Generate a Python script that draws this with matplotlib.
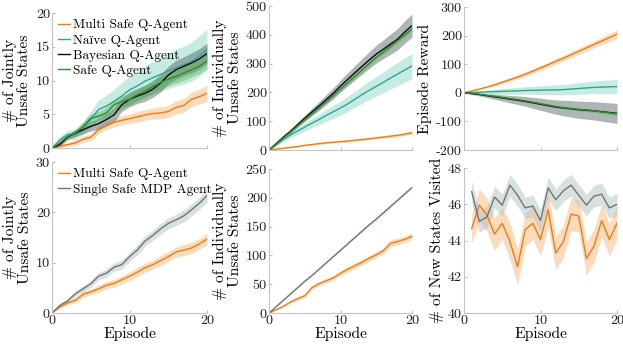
import numpy as np
import matplotlib
matplotlib.use("Agg")
import matplotlib.pyplot as plt

plt.rcParams['font.family'] = ['cmr10', 'Liberation Serif']
plt.rcParams['axes.unicode_minus'] = False
plt.rcParams['mathtext.fontset'] = 'cm'

# ---- data ----
ep = np.arange(0, 21)
ep_new = np.arange(1, 21)

# top left: jointly unsafe states
joint_multi = [0, 0.25, 0.5, 0.75, 1.3, 1.6, 2.7, 3.3, 3.8, 4.1, 4.35, 4.6, 4.9, 5.1, 5.2, 5.4, 6.0, 6.3, 7.2, 7.6, 8.1]
joint_multi_sd = [0, 0.2, 0.3, 0.4, 0.5, 0.5, 0.6, 0.6, 0.7, 0.7, 0.7, 0.8, 0.8, 0.8, 0.9, 0.9, 1.0, 1.0, 1.1, 1.1, 1.2]
joint_naive = [0, 1.2, 2.0, 2.0, 3.0, 4.2, 5.7, 6.2, 6.9, 7.7, 8.6, 9.2, 9.9, 10.4, 10.9, 11.4, 11.9, 12.3, 12.8, 13.6, 14.6]
joint_naive_sd = [0, 0.5, 0.6, 0.8, 1.0, 1.2, 1.4, 1.6, 1.8, 2.0, 2.1, 2.2, 2.3, 2.4, 2.5, 2.6, 2.7, 2.8, 2.9, 3.0, 3.0]
joint_bayes = [0, 0.5, 1.6, 2.2, 2.7, 3.2, 3.6, 4.2, 4.9, 6.4, 7.2, 7.7, 8.1, 8.7, 9.6, 10.8, 11.6, 12.1, 12.6, 13.2, 14.0]
joint_bayes_sd = [0, 0.3, 0.4, 0.5, 0.6, 0.7, 0.8, 0.9, 1.0, 1.0, 1.1, 1.1, 1.2, 1.2, 1.3, 1.3, 1.4, 1.4, 1.5, 1.5, 1.5]
joint_safe = [0, 0.75, 1.7, 2.2, 3.2, 4.4, 4.7, 5.2, 6.4, 6.9, 7.2, 7.9, 8.4, 9.1, 9.7, 10.2, 10.6, 11.1, 11.6, 12.1, 12.9]
joint_safe_sd = [0, 0.3, 0.4, 0.5, 0.6, 0.7, 0.7, 0.8, 0.8, 0.8, 0.9, 0.9, 0.9, 1.0, 1.0, 1.0, 1.0, 1.1, 1.1, 1.1, 1.1]

# top middle: individually unsafe states
ind_multi = [0, 3, 6, 9, 12, 16, 19, 22, 25, 27, 29, 31, 34, 36, 39, 42, 45, 48, 51, 55, 60]
ind_multi_sd = [0, 1, 1, 2, 2, 2, 3, 3, 3, 3, 3, 4, 4, 4, 4, 4, 5, 5, 5, 5, 6]
ind_naive = [0, 18, 36, 52, 66, 80, 93, 106, 120, 133, 146, 160, 176, 192, 207, 221, 235, 250, 264, 278, 292]
ind_naive_sd = [0, 4, 7, 10, 12, 14, 16, 18, 20, 22, 24, 26, 28, 30, 32, 34, 36, 38, 40, 42, 44]
ind_bayes = [0, 22, 45, 65, 88, 110, 132, 153, 175, 197, 222, 245, 268, 290, 312, 333, 350, 368, 385, 410, 432]
ind_bayes_sd = [0, 3, 5, 7, 9, 11, 13, 15, 17, 19, 21, 23, 25, 27, 29, 31, 33, 35, 37, 39, 40]
ind_safe = [0, 20, 42, 62, 84, 105, 126, 146, 167, 189, 212, 234, 256, 278, 300, 322, 340, 360, 380, 400, 420]
ind_safe_sd = [0, 2, 3, 3, 4, 4, 5, 5, 5, 6, 6, 6, 7, 7, 7, 7, 8, 8, 8, 8, 8]

# top right: episode reward
rew_multi = [0, 6, 13, 20, 28, 37, 46, 55, 65, 76, 87, 98, 110, 121, 133, 145, 157, 169, 181, 193, 205]
rew_multi_sd = [0, 2, 3, 4, 5, 6, 7, 7, 8, 8, 9, 9, 10, 10, 11, 11, 12, 12, 13, 14, 15]
rew_naive = [0, 1, 2, 3, 4, 5, 6, 7, 8, 9, 9, 10, 10, 11, 13, 15, 17, 19, 20, 21, 22]
rew_naive_sd = [0, 3, 5, 7, 9, 10, 11, 12, 13, 14, 15, 16, 17, 18, 19, 20, 21, 22, 23, 24, 25]
rew_bayes = [0, -3, -6, -10, -14, -18, -22, -26, -30, -35, -40, -45, -50, -53, -56, -59, -61, -63, -66, -69, -72]
rew_bayes_sd = [0, 3, 5, 7, 9, 11, 13, 15, 17, 19, 21, 23, 25, 27, 29, 30, 31, 32, 33, 34, 35]
rew_safe = [0, -2, -5, -9, -12, -16, -20, -24, -28, -33, -38, -43, -48, -52, -55, -58, -60, -63, -67, -70, -74]
rew_safe_sd = [0, 1, 1, 2, 2, 2, 3, 3, 3, 3, 4, 4, 4, 4, 5, 5, 5, 5, 5, 6, 6]

# bottom left: jointly unsafe, multi vs single
bj_multi = [0, 1.2, 2.0, 2.5, 3.7, 4.2, 4.8, 5.5, 5.9, 6.6, 7.3, 8.1, 9.0, 9.6, 10.4, 11.2, 12.1, 12.5, 12.9, 13.7, 14.7]
bj_multi_sd = [0, 0.3, 0.4, 0.5, 0.6, 0.6, 0.7, 0.7, 0.8, 0.8, 0.8, 0.9, 0.9, 0.9, 1.0, 1.0, 1.0, 1.1, 1.1, 1.1, 1.2]
bj_single = [0, 1.5, 2.4, 3.8, 4.8, 5.8, 7.3, 7.9, 9.1, 9.6, 11.2, 12.5, 14.3, 15.4, 16.7, 17.8, 18.5, 19.3, 20.5, 21.8, 23.3]
bj_single_sd = [0, 0.3, 0.4, 0.5, 0.6, 0.7, 0.7, 0.8, 0.8, 0.9, 0.9, 1.0, 1.0, 1.0, 1.1, 1.1, 1.1, 1.2, 1.2, 1.2, 1.3]

# bottom middle: individually unsafe, multi vs single
bi_multi = [0, 5.7, 11.5, 19, 25, 30, 44, 51, 56, 61, 69, 76, 82, 88, 95, 101, 108, 121, 124, 128, 133]
bi_multi_sd = [0, 1, 2, 2, 3, 3, 3, 4, 4, 4, 4, 5, 5, 5, 5, 5, 5, 6, 6, 6, 6]
bi_single = [0, 11, 22, 33, 44, 55, 65, 76, 87, 98, 109, 120, 131, 142, 153, 163, 174, 185, 196, 207, 218]
bi_single_sd = [0, 0.5, 0.8, 1, 1, 1, 1.2, 1.2, 1.3, 1.4, 1.5, 1.5, 1.6, 1.7, 1.8, 1.8, 1.9, 2, 2, 2, 2]

# bottom right: new states visited
nv_multi = [44.65, 45.95, 45.4, 44.35, 44.95, 43.95, 42.55, 44.6, 44.95, 44.05, 45.7, 43.3, 43.95, 45.45, 45.35, 43.0, 43.7, 45.1, 44.05, 44.95]
nv_multi_sd = [0.8, 0.9, 0.9, 0.9, 0.9, 1.0, 1.0, 0.9, 0.9, 0.9, 1.0, 0.9, 0.9, 0.9, 0.9, 0.9, 0.9, 0.9, 0.9, 0.9]
nv_single = [46.7, 45.05, 45.3, 46.4, 45.95, 47.05, 46.5, 45.8, 45.9, 45.1, 46.9, 46.25, 46.75, 47.05, 46.5, 45.95, 46.45, 46.55, 45.8, 46.0]
nv_single_sd = [0.6, 0.6, 0.6, 0.6, 0.6, 0.6, 0.6, 0.6, 0.6, 0.6, 0.6, 0.6, 0.6, 0.6, 0.6, 0.6, 0.6, 0.6, 0.6, 0.6]

labels_top = ['Multi Safe Q-Agent', 'Naïve Q-Agent', 'Bayesian Q-Agent', 'Safe Q-Agent']
labels_bot = ['Multi Safe Q-Agent', 'Single Safe MDP Agent']

# ---- styles ----
c_orange = '#EE7D12'
c_teal = '#35A095'
c_black = '#0A0A0A'
c_green = '#2E8A2E'
c_gray = '#6B7878'
band = {c_orange: ('#F5B26B', 0.45), c_teal: ('#6FD0B6', 0.4),
        c_black: ('#4C5C5C', 0.45), c_green: ('#4FB04F', 0.4),
        c_gray: ('#B5C2C2', 0.5)}

W, H = 623, 345
fig = plt.figure(figsize=(W / 100, H / 100), dpi=100)


def box(x0, x1, ytop, ybot):
    return [x0 / W, 1 - ybot / H, (x1 - x0) / W, (ybot - ytop) / H]


def style(ax):
    for s in ['top', 'right']:
        ax.spines[s].set_visible(False)
    for s in ['left', 'bottom']:
        ax.spines[s].set_color('#c4c4c4')
        ax.spines[s].set_linewidth(0.8)
    ax.tick_params(direction='in', length=2.5, width=0.6, color='#b0b0b0',
                   labelsize=10.2, labelcolor='#222222', pad=1.5)


def series(ax, x, y, sd, color, label=None):
    y = np.array(y)
    sd = np.array(sd)
    bc, ba = band[color]
    ax.fill_between(x, y - sd, y + sd, color=bc, alpha=ba, linewidth=0)
    ax.plot(x, y, color=color, linewidth=1.0, label=label)


def legend(ax, labels):
    ax.legend(loc='upper left', frameon=False, fontsize=9.6, handlelength=0.9,
              handletextpad=0.25, labelspacing=0.22, borderaxespad=0.35,
              borderpad=0.1)


ylab_kw = dict(fontsize=11.2, linespacing=1.1, labelpad=3)
xlab_kw = dict(fontsize=11.2, labelpad=0)

# top left
ax = fig.add_axes(box(52, 207, 13, 148))
style(ax)
series(ax, ep, joint_multi, joint_multi_sd, c_orange, labels_top[0])
series(ax, ep, joint_naive, joint_naive_sd, c_teal, labels_top[1])
series(ax, ep, joint_bayes, joint_bayes_sd, c_black, labels_top[2])
series(ax, ep, joint_safe, joint_safe_sd, c_green, labels_top[3])
ax.set_xlim(0, 20)
ax.set_ylim(0, 20)
ax.set_xticks([0, 10, 20])
ax.set_xticklabels([])
ax.set_yticks([0, 5, 10, 15, 20])
ax.set_ylabel('# of Jointly\nUnsafe States', **ylab_kw)
legend(ax, labels_top)

# top middle
ax = fig.add_axes(box(269, 412, 6, 150))
style(ax)
series(ax, ep, ind_multi, ind_multi_sd, c_orange)
series(ax, ep, ind_naive, ind_naive_sd, c_teal)
series(ax, ep, ind_bayes, ind_bayes_sd, c_black)
series(ax, ep, ind_safe, ind_safe_sd, c_green)
ax.set_xlim(0, 20)
ax.set_ylim(0, 500)
ax.set_xticks([0, 10, 20])
ax.set_xticklabels([])
ax.set_yticks([0, 100, 200, 300, 400, 500])
ax.set_ylabel('# of Individually\nUnsafe States', **ylab_kw)

# top right
ax = fig.add_axes(box(464, 617, 7, 150))
style(ax)
series(ax, ep, rew_multi, rew_multi_sd, c_orange)
series(ax, ep, rew_naive, rew_naive_sd, c_teal)
series(ax, ep, rew_bayes, rew_bayes_sd, c_black)
series(ax, ep, rew_safe, rew_safe_sd, c_green)
ax.set_xlim(0, 20)
ax.set_ylim(-200, 300)
ax.set_xticks([0, 10, 20])
ax.set_xticklabels([])
ax.set_yticks([-200, -100, 0, 100, 200, 300])
ax.set_ylabel('Episode Reward', **ylab_kw)

# bottom left
ax = fig.add_axes(box(52, 207, 162, 313))
style(ax)
series(ax, ep, bj_multi, bj_multi_sd, c_orange, labels_bot[0])
series(ax, ep, bj_single, bj_single_sd, c_gray, labels_bot[1])
ax.set_xlim(0, 20)
ax.set_ylim(0, 30)
ax.set_xticks([0, 10, 20])
ax.set_yticks([0, 10, 20, 30])
ax.set_ylabel('# of Jointly\nUnsafe States', **ylab_kw)
ax.set_xlabel('Episode', **xlab_kw)
legend(ax, labels_bot)

# bottom middle
ax = fig.add_axes(box(269, 412, 169, 313))
style(ax)
series(ax, ep, bi_multi, bi_multi_sd, c_orange)
series(ax, ep, bi_single, bi_single_sd, c_gray)
ax.set_xlim(0, 20)
ax.set_ylim(0, 250)
ax.set_xticks([0, 10, 20])
ax.set_yticks([0, 50, 100, 150, 200, 250])
ax.set_ylabel('# of Individually\nUnsafe States', **ylab_kw)
ax.set_xlabel('Episode', **xlab_kw)

# bottom right
ax = fig.add_axes(box(464, 617, 168, 313))
style(ax)
series(ax, ep_new, nv_multi, nv_multi_sd, c_orange)
series(ax, ep_new, nv_single, nv_single_sd, c_gray)
ax.set_xlim(0, 20)
ax.set_ylim(40, 48)
ax.set_xticks([0, 10, 20])
ax.set_yticks([40, 42, 44, 46, 48])
ax.set_ylabel('# of New States Visited', **ylab_kw)
ax.set_xlabel('Episode', **xlab_kw)

fig.savefig('out.png', dpi=100)
